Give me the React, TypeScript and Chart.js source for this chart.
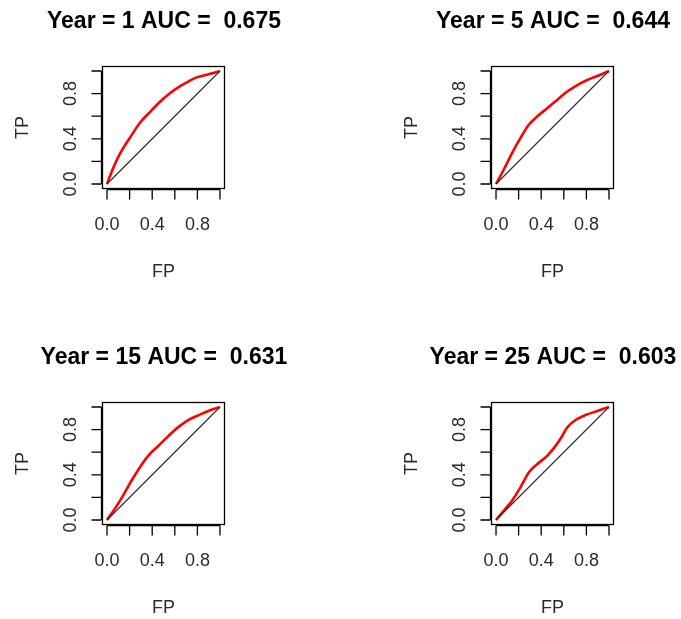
import React, { useEffect, useRef } from "react";
import { Chart, registerables } from "chart.js";

Chart.register(...registerables);

// ---- data ----
const years = [1, 5, 15, 25];
const aucLabels = ["0.675", "0.644", "0.631", "0.603"];

const fpYear1 = [0, 0.038, 0.083, 0.127, 0.2, 0.29, 0.379, 0.467, 0.556, 0.63, 0.719, 0.793, 0.867, 0.941, 1];
const tpYear1 = [0, 0.1, 0.205, 0.29, 0.405, 0.54, 0.636, 0.726, 0.803, 0.856, 0.906, 0.944, 0.962, 0.982, 1];

const fpYear5 = [0, 0.068, 0.142, 0.216, 0.29, 0.364, 0.453, 0.541, 0.63, 0.719, 0.808, 0.896, 1];
const tpYear5 = [0, 0.126, 0.274, 0.406, 0.524, 0.597, 0.671, 0.744, 0.818, 0.876, 0.921, 0.956, 1];

const fpYear15 = [0, 0.068, 0.142, 0.216, 0.29, 0.364, 0.453, 0.541, 0.63, 0.719, 0.808, 0.896, 1];
const tpYear15 = [0, 0.097, 0.215, 0.347, 0.465, 0.568, 0.655, 0.74, 0.822, 0.885, 0.926, 0.965, 1];

const fpYear25 = [0, 0.068, 0.142, 0.216, 0.29, 0.364, 0.453, 0.527, 0.586, 0.63, 0.704, 0.793, 0.896, 1];
const tpYear25 = [0, 0.082, 0.171, 0.288, 0.421, 0.494, 0.568, 0.656, 0.744, 0.818, 0.885, 0.929, 0.965, 1];

const diagX = [0, 1];
const diagY = [0, 1];

const tickValues = [0, 0.2, 0.4, 0.6, 0.8, 1];
const labelValues = [0, 0.4, 0.8];
const labelTexts = ["0.0", "0.4", "0.8"];

const xTitle = "FP";
const yTitle = "TP";

const panels = [
  { fp: fpYear1, tp: tpYear1, year: years[0], auc: aucLabels[0], left: 0, top: 0 },
  { fp: fpYear5, tp: tpYear5, year: years[1], auc: aucLabels[1], left: 389, top: 0 },
  { fp: fpYear15, tp: tpYear15, year: years[2], auc: aucLabels[2], left: 0, top: 336 },
  { fp: fpYear25, tp: tpYear25, year: years[3], auc: aucLabels[3], left: 389, top: 336 },
];

const W = 290;
const H = 283;
const FONT = '"Liberation Sans", Arial, Helvetica, sans-serif';

function rAxesPlugin(title: string) {
  return {
    id: "rAxes",
    afterDatasetsDraw(chart: any) {
      const ctx = chart.ctx as CanvasRenderingContext2D;
      const { left, right, top, bottom } = chart.chartArea;
      const xs = chart.scales.x;
      const ys = chart.scales.y;
      ctx.save();
      ctx.strokeStyle = "#000";
      ctx.lineWidth = 1.3;
      // box
      ctx.strokeRect(left, top, right - left, bottom - top);
      // x axis
      const ax = bottom + 1;
      ctx.beginPath();
      ctx.moveTo(xs.getPixelForValue(tickValues[0]), ax);
      ctx.lineTo(xs.getPixelForValue(tickValues[tickValues.length - 1]), ax);
      tickValues.forEach((v) => {
        const p = xs.getPixelForValue(v);
        ctx.moveTo(p, ax);
        ctx.lineTo(p, ax + 10);
      });
      ctx.stroke();
      // y axis
      const ay = left - 1;
      ctx.beginPath();
      ctx.moveTo(ay, ys.getPixelForValue(tickValues[0]));
      ctx.lineTo(ay, ys.getPixelForValue(tickValues[tickValues.length - 1]));
      tickValues.forEach((v) => {
        const p = ys.getPixelForValue(v);
        ctx.moveTo(ay, p);
        ctx.lineTo(ay - 10, p);
      });
      ctx.stroke();

      // tick labels
      ctx.fillStyle = "#2a2a2a";
      ctx.font = `18px ${FONT}`;
      ctx.textAlign = "center";
      ctx.textBaseline = "alphabetic";
      labelValues.forEach((v, i) => {
        ctx.fillText(labelTexts[i], xs.getPixelForValue(v), bottom + 41.5);
      });
      labelValues.forEach((v, i) => {
        ctx.save();
        ctx.translate(left - 27, ys.getPixelForValue(v));
        ctx.rotate(-Math.PI / 2);
        ctx.fillText(labelTexts[i], 0, 0);
        ctx.restore();
      });

      // axis titles
      ctx.font = `18px ${FONT}`;
      const cx = (left + right) / 2;
      const cy = (top + bottom) / 2;
      ctx.fillText(xTitle, cx, bottom + 88);
      ctx.save();
      ctx.translate(left - 74.5, cy);
      ctx.rotate(-Math.PI / 2);
      ctx.fillText(yTitle, 0, 0);
      ctx.restore();

      // main title
      ctx.fillStyle = "#000";
      ctx.font = `bold 23px ${FONT}`;
      ctx.fillText(title, cx + 0.5, top - 38.8);
      ctx.restore();
    },
  };
}

function Panel(props: { fp: number[]; tp: number[]; year: number; auc: string; left: number; top: number }) {
  const ref = useRef<HTMLCanvasElement | null>(null);
  useEffect(() => {
    if (!ref.current) return;
    const title = `Year = ${props.year} AUC =  ${props.auc}`;
    const chart = new Chart(ref.current, {
      type: "scatter",
      data: {
        datasets: [
          {
            data: diagX.map((x, i) => ({ x, y: diagY[i] })),
            showLine: true,
            borderColor: "#333",
            borderWidth: 1.2,
            pointRadius: 0,
            tension: 0,
          },
          {
            data: props.fp.map((x, i) => ({ x, y: props.tp[i] })),
            showLine: true,
            borderColor: "#ff0000",
            borderWidth: 2.6,
            pointRadius: 0,
            cubicInterpolationMode: "monotone",
          },
        ],
      },
      options: {
        responsive: false,
        animation: false,
        events: [],
        layout: { padding: { left: 102.5, right: W - 224.5, top: 66.5, bottom: H - 188.5 } },
        scales: {
          x: { type: "linear", min: -0.04, max: 1.04, display: false },
          y: { type: "linear", min: -0.04, max: 1.04, display: false },
        },
        plugins: { legend: { display: false }, tooltip: { enabled: false }, title: { display: false } },
      },
      plugins: [rAxesPlugin(title)],
    } as any);
    return () => chart.destroy();
  }, []);
  return (
    <canvas
      ref={ref}
      width={W}
      height={H}
      style={{ position: "absolute", left: props.left, top: props.top, width: W, height: H }}
    />
  );
}

export default function App() {
  return (
    <div
      style={{
        position: "absolute",
        left: 0,
        top: 0,
        width: 681,
        height: 619,
        overflow: "hidden",
        background: "#fff",
      }}
    >
      {panels.map((p, i) => (
        <Panel key={i} {...p} />
      ))}
    </div>
  );
}
